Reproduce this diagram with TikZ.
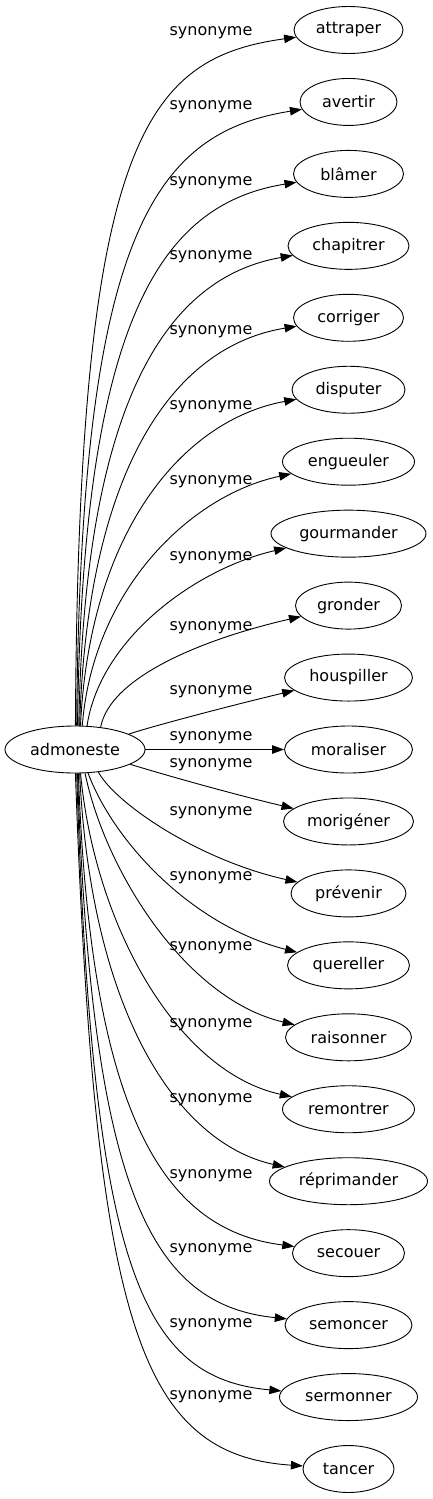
\documentclass[tikz,border=0pt]{standalone}
\usepackage{fontspec}
\setmainfont{DejaVu Sans}
\usetikzlibrary{arrows.meta,shapes.geometric}
\tikzset{
  wnode/.style={draw, ellipse, line width=0.9pt, minimum height=47pt, inner sep=1pt, font=\fontsize{16}{19}\selectfont},
  syn/.style={draw, line width=0.9pt, -{Triangle[length=12pt,width=8.5pt]}},
  lab/.style={inner sep=0pt, font=\fontsize{16}{19}\selectfont}
}
\begin{document}
\begin{tikzpicture}[x=1pt,y=-1pt]
\useasboundingbox (0,0) rectangle (432,1499);
\node[wnode, minimum width=140pt] (adm) at (75,749.5) {admoneste};
\node[wnode, minimum width=109pt] (attraper) at (348.5,30) {attraper};
\node[wnode, minimum width=97pt] (avertir) at (348.5,101.95) {avertir};
\node[wnode, minimum width=110pt] (blamer) at (348.5,173.9) {blâmer};
\node[wnode, minimum width=121pt] (chapitrer) at (348.5,245.85) {chapitrer};
\node[wnode, minimum width=110pt] (corriger) at (348.5,317.8) {corriger};
\node[wnode, minimum width=113pt] (disputer) at (348.5,389.75) {disputer};
\node[wnode, minimum width=132pt] (engueuler) at (348.5,461.7) {engueuler};
\node[wnode, minimum width=155pt] (gourmander) at (348.5,533.65) {gourmander};
\node[wnode, minimum width=106pt] (gronder) at (348.5,605.6) {gronder};
\node[wnode, minimum width=128pt] (houspiller) at (348.5,677.55) {houspiller};
\node[wnode, minimum width=128pt] (moraliser) at (348.5,749.5) {moraliser};
\node[wnode, minimum width=130pt] (morigener) at (348.5,821.45) {morigéner};
\node[wnode, minimum width=115pt] (prevenir) at (348.5,893.4) {prévenir};
\node[wnode, minimum width=122pt] (quereller) at (348.5,965.35) {quereller};
\node[wnode, minimum width=126pt] (raisonner) at (348.5,1037.3) {raisonner};
\node[wnode, minimum width=132pt] (remontrer) at (348.5,1109.25) {remontrer};
\node[wnode, minimum width=158pt] (reprimander) at (348.5,1181.2) {réprimander};
\node[wnode, minimum width=112pt] (secouer) at (348.5,1253.15) {secouer};
\node[wnode, minimum width=127pt] (semoncer) at (348.5,1325.1) {semoncer};
\node[wnode, minimum width=138pt] (sermonner) at (348.5,1397.05) {sermonner};
\node[wnode, minimum width=91pt] (tancer) at (348.5,1469) {tancer};
% upper edges
\draw[syn] (adm.89) .. controls (78.5,140) and (145,58) .. (attraper);
\draw[syn] (adm.86) .. controls (80.5,236) and (153,133) .. (avertir);
\draw[syn] (adm.84) .. controls (82.5,319) and (161,204) .. (blamer);
\draw[syn] (adm.81) .. controls (84.5,399) and (168,277) .. (chapitrer);
\draw[syn] (adm.79) .. controls (87.5,466) and (175,346) .. (corriger);
\draw[syn] (adm.77) .. controls (89.5,531) and (183,420) .. (disputer);
\draw[syn] (adm.73) .. controls (93,589) and (191,495) .. (engueuler);
\draw[syn] (adm.63) .. controls (100,639) and (195,569) .. (gourmander);
\draw[syn] (adm.41) .. controls (110,677) and (203,639) .. (gronder);
\draw[syn] (adm.16) .. controls (153,726) and (233,705) .. (houspiller);
% middle
\draw[syn] (adm) -- (moraliser);
% lower edges
\draw[syn] (adm.345) .. controls (155,772) and (228,793) .. (morigener);
\draw[syn] (adm.316) .. controls (115,803) and (198,860) .. (prevenir);
\draw[syn] (adm.299) .. controls (113,840) and (190,925) .. (quereller);
\draw[syn] (adm.293) .. controls (105,870) and (185,999) .. (raisonner);
\draw[syn] (adm.283) .. controls (95.5,930) and (179,1072) .. (remontrer);
\draw[syn] (adm.281) .. controls (90.5,1005) and (173,1142) .. (reprimander);
\draw[syn] (adm.278) .. controls (90.5,1112) and (162,1230) .. (secouer);
\draw[syn] (adm.276) .. controls (91.5,1192) and (151,1305) .. (semoncer);
\draw[syn] (adm.274) .. controls (92.5,1267) and (140,1378) .. (sermonner);
\draw[syn] (adm.271) .. controls (95,1327) and (140,1455) .. (tancer);
% labels
\node[lab] (l0) at (211,33) {synonyme};
\node[lab] (l1) at (211,107) {synonyme};
\node[lab] (l2) at (211,183) {synonyme};
\node[lab] (l3) at (211,257) {synonyme};
\node[lab] (l4) at (211,332) {synonyme};
\node[lab] (l5) at (211,407) {synonyme};
\node[lab] (l6) at (211,482) {synonyme};
\node[lab] (l7) at (211,558) {synonyme};
\node[lab] (l8) at (211,628) {synonyme};
\node[lab] (l9) at (211,692) {synonyme};
\node[lab] (l10) at (211,738) {synonyme};
\node[lab] (l11) at (211,765) {synonyme};
\node[lab] (l12) at (211,813) {synonyme};
\node[lab] (l13) at (211,878) {synonyme};
\node[lab] (l14) at (211,948) {synonyme};
\node[lab] (l15) at (211,1025) {synonyme};
\node[lab] (l16) at (211,1100) {synonyme};
\node[lab] (l17) at (211,1176) {synonyme};
\node[lab] (l18) at (211,1250) {synonyme};
\node[lab] (l19) at (211,1325) {synonyme};
\node[lab] (l20) at (211,1397) {synonyme};
\end{tikzpicture}
\end{document}
